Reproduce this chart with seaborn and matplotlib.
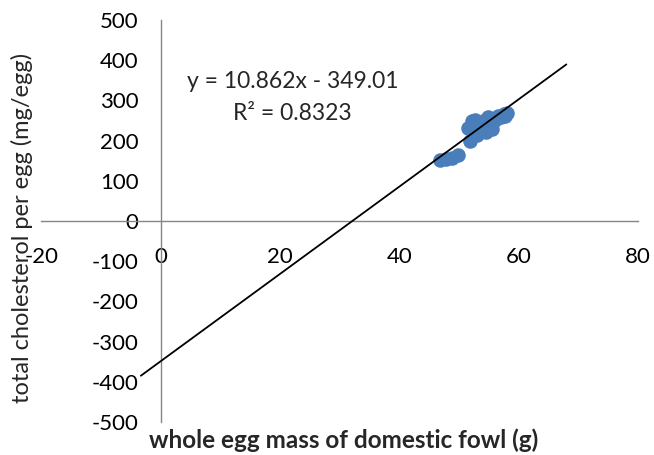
#!/usr/bin/env python3
# -*- coding: utf-8 -*-

"""Egg mass vs cholesterol scatter with linear trendline (Excel style)."""

import numpy as np
import pandas as pd
import matplotlib
matplotlib.use('Agg')
import matplotlib.pyplot as plt
import seaborn as sns

# Data
egg_mass = [46.8, 47.9, 48.8, 49.8, 51.9, 51.5, 52.3, 52.7, 53.2, 53.6,
            54.0, 54.4, 54.8, 55.2, 55.6, 56.0, 56.5, 57.0, 57.5, 58.0,
            53.0, 54.5, 55.5, 52.2, 57.8]
cholesterol = [152, 155, 158, 165, 200, 232, 245, 252, 238, 225,
               248, 235, 258, 242, 230, 252, 262, 258, 265, 268,
               215, 222, 245, 250, 262]

# Trendline as reported on the chart
slope = 10.862
intercept = -349.01
r_squared = 0.8323
trend_range = [-3.3, 68.0]

x_ticks = [-20, 0, 20, 40, 60, 80]
y_ticks = [-500, -400, -300, -200, -100, 0, 100, 200, 300, 400, 500]

df = pd.DataFrame({'mass': egg_mass, 'chol': cholesterol})

sns.set_style('white')
plt.rcParams['font.family'] = ['Lato', 'DejaVu Sans']
plt.rcParams['axes.unicode_minus'] = False

fig, ax = plt.subplots(figsize=(6.54, 4.55), dpi=100)
fig.subplots_adjust(left=0.063, right=0.9755, top=0.956, bottom=0.0725)

# Scatter points
sns.scatterplot(data=df, x='mass', y='chol', ax=ax, s=110,
                color='#4A7EBB', edgecolor='#4A7EBB', linewidth=0, zorder=3)

# Linear trendline
trend_x = np.array(trend_range)
trend_y = slope * trend_x + intercept
ax.plot(trend_x, trend_y, color='black', lw=1.3, zorder=4)

# Axes crossing at the origin
ax.set_xlim(x_ticks[0], x_ticks[-1])
ax.set_ylim(y_ticks[0], y_ticks[-1])
ax.set_xticks(x_ticks)
ax.set_yticks(y_ticks)
ax.set_xlabel('')
ax.set_ylabel('')
for side in ['top', 'right']:
    ax.spines[side].set_visible(False)
ax.spines['left'].set_position(('data', 0))
ax.spines['bottom'].set_position(('data', 0))
for side in ['left', 'bottom']:
    ax.spines[side].set_color('#868686')
    ax.spines[side].set_linewidth(1.0)
ax.tick_params(axis='both', direction='out', length=5, width=1.0,
               color='#868686', labelsize=16, labelcolor='black')
ax.tick_params(axis='y', pad=11)
ax.tick_params(axis='x', pad=14)

# Axis titles
fig.text(0.034, 0.5, 'total cholesterol per egg (mg/egg)', rotation=90,
         ha='center', va='center', fontsize=17)
fig.text(0.526, 0.033, 'whole egg mass of domestic fowl (g)',
         ha='center', va='center', fontsize=17.5, fontweight='bold')

# Trendline equation
ax.text(22.1, 348, f'y = {slope}x - {abs(intercept)}', ha='center',
        va='center', fontsize=16.5)
ax.text(22.1, 268, f'R² = {r_squared}', ha='center', va='center', fontsize=16.5)

ax.grid(False)
fig.savefig('out.png', dpi=100)
